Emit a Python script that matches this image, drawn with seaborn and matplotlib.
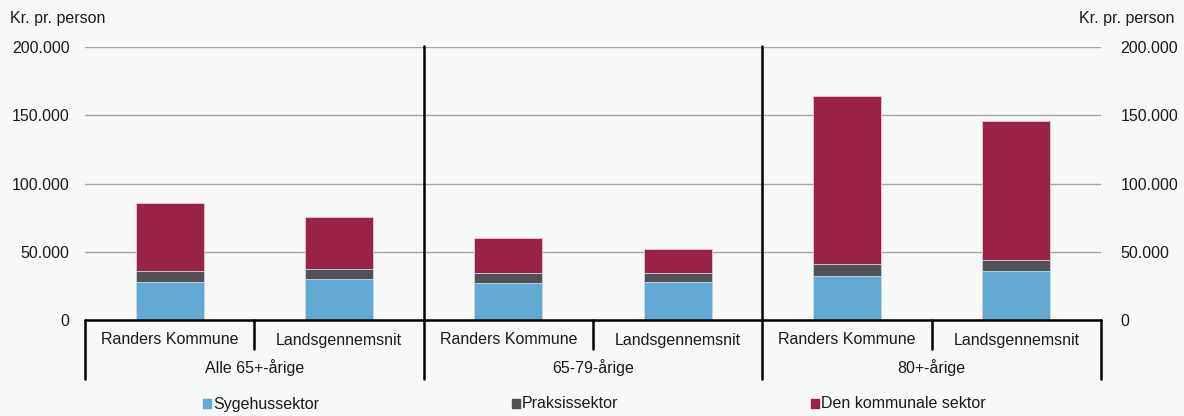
import numpy as np
import pandas as pd
import matplotlib
matplotlib.use("Agg")
import matplotlib.pyplot as plt
import seaborn as sns
from matplotlib.ticker import FuncFormatter
from matplotlib.patches import Patch
import matplotlib.transforms as mtransforms

# ---- data ----
groups = ["Alle 65+-årige", "65-79-årige", "80+-årige"]
subcats = ["Randers Kommune", "Landsgennemsnit"]
sygehus = [28000, 30000, 27100, 27800, 32000, 35900]
praksis = [7900, 7100, 7100, 6600, 8800, 7800]
kommunal = [49600, 38100, 25600, 17800, 123300, 101900]
series_names = ["Sygehussektor", "Praksissektor", "Den kommunale sektor"]
yticks = [0, 50000, 100000, 150000, 200000]

colors = ["#62a9d4", "#505157", "#982346"]
bg = "#f7f9f8"

sns.set_theme(style="white")
plt.rcParams["font.family"] = ["Liberation Sans", "DejaVu Sans"]
plt.rcParams["font.size"] = 11.5

pos = [str(i) for i in range(6)]
df = pd.DataFrame({
    "pos": pos,
    "syg": sygehus,
    "prak": praksis,
    "kom": kommunal,
})
df["c1"] = df["syg"]
df["c2"] = df["syg"] + df["prak"]
df["c3"] = df["c2"] + df["kom"]

W, H = 1184, 416
fig = plt.figure(figsize=(W / 100, H / 100), dpi=100, facecolor=bg)
ax = fig.add_axes([85 / W, (H - 320) / H, (1101 - 85) / W, (320 - 47) / H])
ax.set_facecolor(bg)

for col, c in zip(["c3", "c2", "c1"], [colors[2], colors[1], colors[0]]):
    sns.barplot(data=df, x="pos", y=col, order=pos, color=c, width=0.4,
                edgecolor="#e8c8d0" if c == colors[2] else "#d0d8e0",
                linewidth=0.6, ax=ax, saturation=1, zorder=3)

ax.set_xlim(-0.5, 5.5)
ax.set_ylim(0, 200000)
ax.set_yticks(yticks)
fmt = FuncFormatter(lambda v, p: f"{int(v):,}".replace(",", "."))
ax.yaxis.set_major_formatter(fmt)
ax.tick_params(axis="y", length=0, pad=11, labelsize=11.5, colors="#1a1a1a")
ax.set_xticks([])
ax.set_xlabel("")
ax.set_ylabel("")
for s in ax.spines.values():
    s.set_visible(False)
for v in yticks[1:]:
    ax.axhline(v, color="#a6a6a6", lw=1.0, zorder=1)

ax2 = ax.twinx()
ax2.set_ylim(0, 200000)
ax2.set_yticks(yticks)
ax2.yaxis.set_major_formatter(fmt)
ax2.tick_params(axis="y", length=0, pad=14, labelsize=11.5, colors="#1a1a1a")
for s in ax2.spines.values():
    s.set_visible(False)

# category axis lines
trans = mtransforms.blended_transform_factory(ax.transData, fig.transFigure)
def fy(py):
    return (H - py) / H

lw = 1.8
ax.plot([-0.5, 5.5], [fy(320)] * 2, color="black", lw=lw, transform=trans, clip_on=False, zorder=5)
for xb in [-0.5, 5.5]:
    ax.plot([xb, xb], [fy(320), fy(379)], color="black", lw=lw, transform=trans, clip_on=False)
for xb in [1.5, 3.5]:
    ax.plot([xb, xb], [fy(46), fy(379)], color="black", lw=lw, transform=trans, clip_on=False, zorder=5)
for xb in [0.5, 2.5, 4.5]:
    ax.plot([xb, xb], [fy(320), fy(349)], color="black", lw=lw, transform=trans, clip_on=False)

for i in range(6):
    ax.text(i, fy(340), subcats[i % 2], ha="center", va="center", transform=trans,
            fontsize=11.5, color="#1a1a1a")
for g in range(3):
    ax.text(2 * g + 0.5, fy(368), groups[g], ha="center", va="center", transform=trans,
            fontsize=11.5, color="#1a1a1a")

fig.text(10 / W, fy(18), "Kr. pr. person", ha="left", va="center", fontsize=11.5, color="#1a1a1a")
fig.text(1174 / W, fy(18), "Kr. pr. person", ha="right", va="center", fontsize=11.5, color="#1a1a1a")

# legend
leg_x = [203, 512, 811]
for x0, name, c in zip(leg_x, series_names, colors):
    fig.patches.append(matplotlib.patches.Rectangle((x0 / W, fy(408)), 8 / W, 9 / H,
                                                    transform=fig.transFigure, color=c))
    fig.text((x0 + 10) / W, fy(404), name, ha="left", va="center", fontsize=11.5, color="#1a1a1a")

fig.savefig("out.png", dpi=100, facecolor=bg)
